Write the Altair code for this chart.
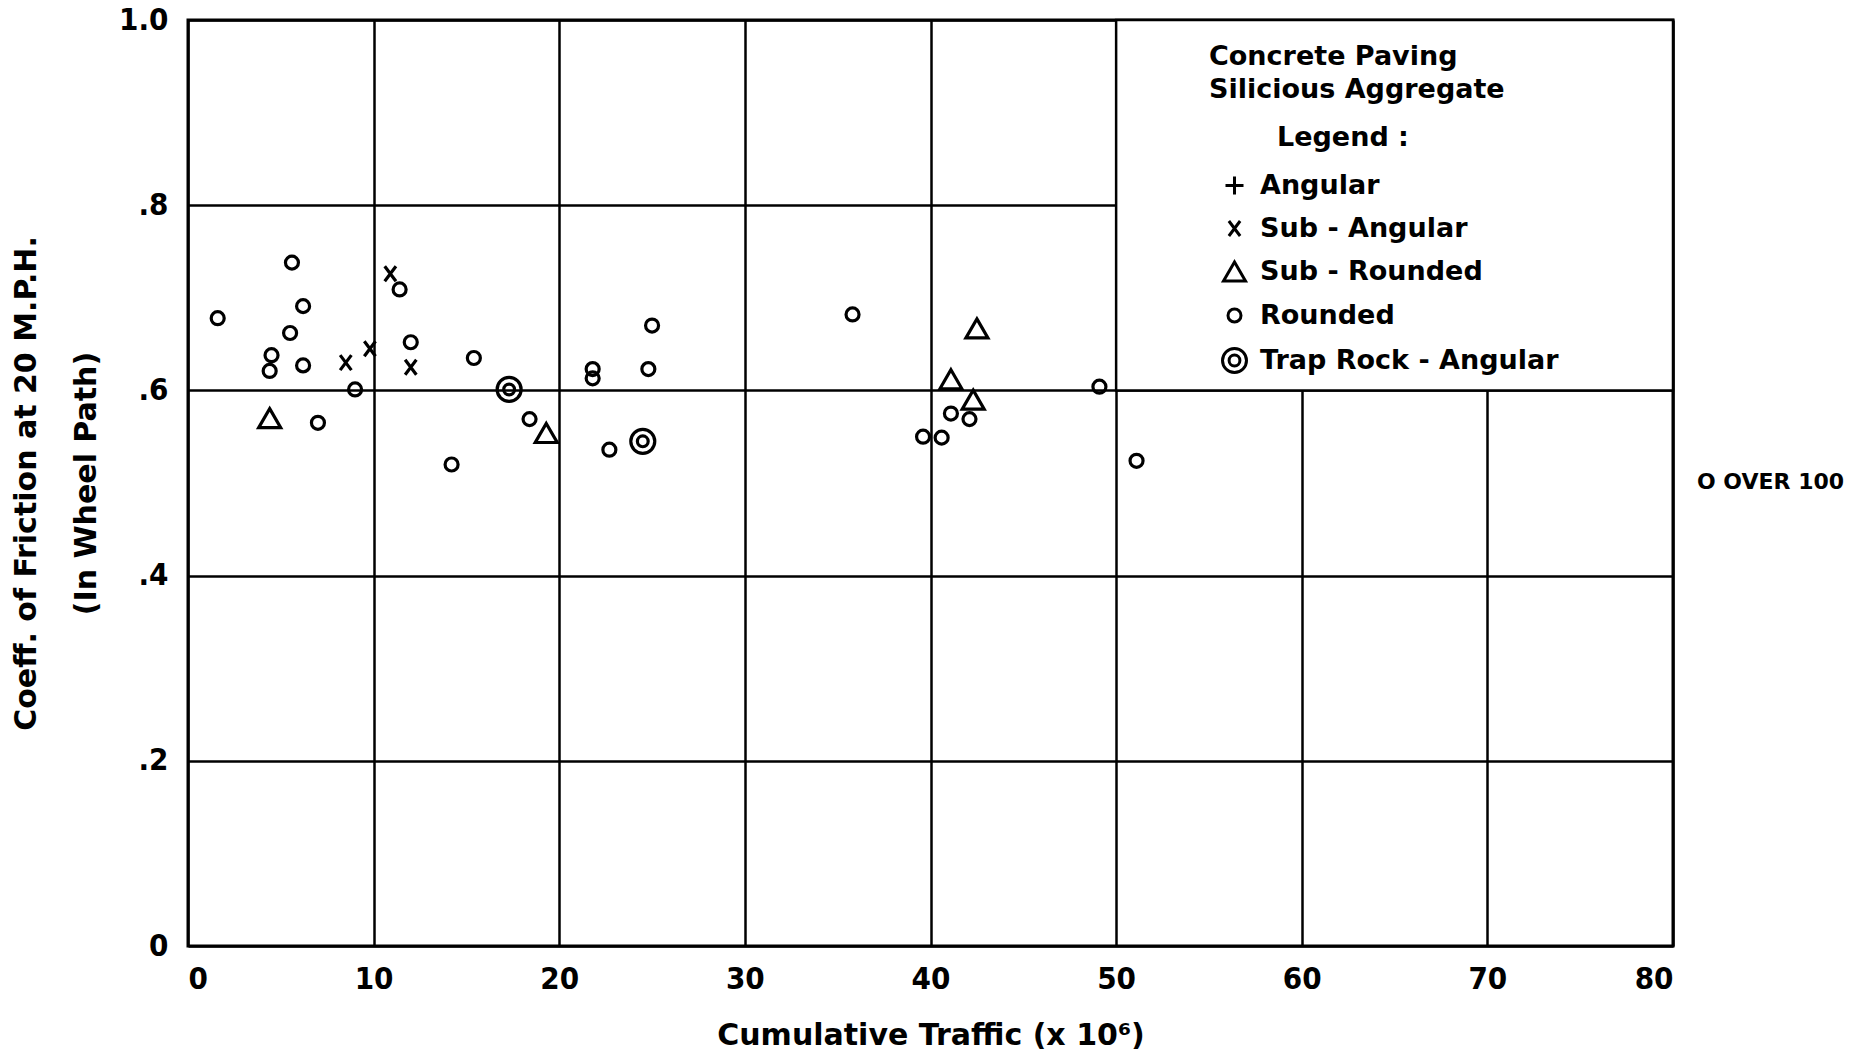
import altair as alt
import pandas as pd

# ---------------- data ----------------
categories = ["Angular", "Sub - Angular", "Sub - Rounded", "Rounded", "Trap Rock - Angular"]

angular_x = []
angular_y = []

sub_angular_x = [8.5, 9.8, 10.9, 12.0]
sub_angular_y = [0.630, 0.645, 0.726, 0.625]

sub_rounded_x = [4.4, 19.3, 41.1, 42.5, 42.3]
sub_rounded_y = [0.570, 0.554, 0.612, 0.667, 0.590]

rounded_x = [1.6, 5.6, 6.2, 5.5, 4.5, 4.4, 6.2, 11.4, 12.0, 9.0, 7.0, 15.4, 18.4,
             14.2, 25.0, 24.8, 21.8, 21.8, 22.7, 35.8, 41.1, 42.1, 39.6, 40.6, 49.1, 51.1]
rounded_y = [0.678, 0.738, 0.691, 0.662, 0.638, 0.621, 0.627, 0.709, 0.652, 0.601, 0.565, 0.635, 0.569,
             0.520, 0.670, 0.623, 0.623, 0.613, 0.536, 0.682, 0.575, 0.569, 0.550, 0.549, 0.604, 0.524]

trap_x = [17.3, 24.5]
trap_y = [0.601, 0.545]

x_ticks = [0, 10, 20, 30, 40, 50, 60, 70, 80]
y_ticks = [0, 0.2, 0.4, 0.6, 0.8, 1.0]

header_lines = ["Concrete Paving", "Silicious Aggregate"]
legend_heading = "Legend :"
over_note = "O OVER 100"

# ---------------- table ----------------
rows = []
for name, xs, ys in [
    (categories[0], angular_x, angular_y),
    (categories[1], sub_angular_x, sub_angular_y),
    (categories[2], sub_rounded_x, sub_rounded_y),
    (categories[3], rounded_x, rounded_y),
    (categories[4], trap_x, trap_y),
]:
    for a, b in zip(xs, ys):
        rows.append({"traffic": a, "friction": b, "type": name})
df = pd.DataFrame(rows)

# ---------------- styling ----------------
FONT = "DejaVu Sans"
TICKFONT = "DejaVu Sans Condensed, Liberation Sans Narrow, DejaVu Sans"

shape_range = [
    "M-1,0L1,0M0,-1L0,1",                                   # plus
    "M-0.75,-1L0.75,1M-0.75,1L0.75,-1",                     # x
    "M0,-0.866L1,0.866L-1,0.866Z",                          # triangle
    "circle",                                               # circle
    "M-1,0A1,1 0 1,0 1,0A1,1 0 1,0 -1,0ZM-0.45,0A0.45,0.45 0 1,0 0.45,0A0.45,0.45 0 1,0 -0.45,0Z",
]
size_range = [324, 225, 484, 169, 576]

x_scale = alt.Scale(domain=[0, 80], nice=False, zero=False)
y_scale = alt.Scale(domain=[0, 1], nice=False, zero=False)

x_axis = alt.Axis(
    values=x_ticks, title="Cumulative Traffic (x 10\u2076)", grid=True, ticks=False, domain=False,
    labelFont=TICKFONT, labelFontSize=31, labelFontWeight="bold", labelPadding=18, labelColor="black",
    titleFont=FONT, titleFontSize=30, titleFontWeight="bold", titleColor="black",
    titleY=98, titleBaseline="alphabetic",
    gridColor="black", gridWidth=2.5, gridOpacity=1,
)
y_axis = alt.Axis(
    values=y_ticks, grid=True, ticks=False, domain=False,
    title=["Coeff. of Friction at 20 M.P.H.", "(In Wheel Path)"],
    labelExpr="datum.value == 0 ? '0' : datum.value == 1 ? '1.0' : '.' + round(datum.value * 10)",
    labelFont=TICKFONT, labelFontSize=31, labelFontWeight="bold", labelPadding=20, labelColor="black",
    titleFont=FONT, titleFontSize=30, titleFontWeight="bold", titleColor="black",
    titleX=-177, titleY=463, titleAngle=270, titleAlign="center", titleBaseline="top",
    titleLineHeight=60,
    gridColor="black", gridWidth=2.5, gridOpacity=1,
)

# legend box (white panel in the upper-right corner)
box = alt.Chart(pd.DataFrame({"k": [0]})).mark_rect(
    fill="white", stroke="black", strokeWidth=2.5
).encode(
    x=alt.datum(50, scale=x_scale, axis=x_axis),
    x2=alt.datum(80),
    y=alt.datum(0.6, scale=y_scale, axis=y_axis),
    y2=alt.datum(1.0),
)

points = alt.Chart(df).mark_point(
    filled=False, color="black", strokeWidth=3.2, opacity=1
).encode(
    x=alt.X("traffic:Q", scale=x_scale, axis=x_axis),
    y=alt.Y("friction:Q", scale=y_scale, axis=y_axis),
    shape=alt.Shape(
        "type:N",
        scale=alt.Scale(domain=categories, range=shape_range),
        legend=alt.Legend(
            title=None,
            orient="none", legendX=1033, legendY=152,
            labelFont=FONT, labelFontSize=27, labelFontWeight="bold", labelColor="black",
            labelOffset=12, rowPadding=13, padding=0, labelLimit=0,
            symbolStrokeColor="black", symbolFillColor="transparent", symbolStrokeWidth=3,
            symbolOpacity=1,
        ),
    ),
    size=alt.Size(
        "type:N",
        scale=alt.Scale(type="ordinal", domain=categories, range=size_range),
        legend=alt.Legend(title=None, orient="none", legendX=1033, legendY=152),
    ),
)

dummy = pd.DataFrame({"k": [0]})
text_style = dict(align="left", baseline="middle", font=FONT, fontWeight="bold", color="black")
head1 = alt.Chart(dummy).mark_text(fontSize=27, **text_style).encode(
    x=alt.value(1021), y=alt.value(37), text=alt.value(header_lines[0]))
head2 = alt.Chart(dummy).mark_text(fontSize=27, **text_style).encode(
    x=alt.value(1021), y=alt.value(70), text=alt.value(header_lines[1]))
head3 = alt.Chart(dummy).mark_text(fontSize=27, **text_style).encode(
    x=alt.value(1089), y=alt.value(118), text=alt.value(legend_heading))
note = alt.Chart(dummy).mark_text(fontSize=22, **text_style).encode(
    x=alt.value(1509), y=alt.value(462), text=alt.value(over_note))

chart = alt.layer(box, points, head1, head2, head3, note).properties(
    width=1485, height=926,
    autosize=alt.AutoSizeParams(type="none"),
    padding={"left": 188, "top": 20, "right": 197, "bottom": 110},
    background="white",
).configure_view(
    stroke="black", strokeWidth=3
)

chart.save("out.html", embed_options={"renderer": "svg", "actions": False})
